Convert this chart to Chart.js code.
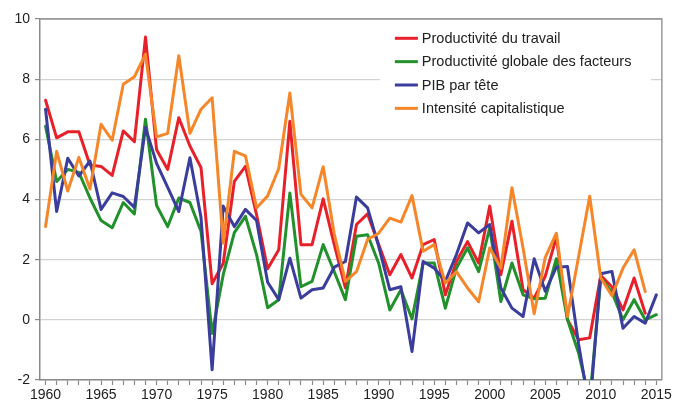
<!DOCTYPE html>
<html>
<head>
<meta charset="utf-8">
<script src="https://cdn.jsdelivr.net/npm/chart.js@4/dist/chart.umd.min.js"></script>
<style>
html,body{margin:0;padding:0;background:#fff;}
#wrap{position:relative;width:674px;height:409px;}
</style>
</head>
<body>
<div id="wrap"><canvas id="c" width="674" height="409"></canvas></div>
<script>
const years = ['1960','1961','1962','1963','1964','1965','1966','1967','1968','1969',
  '1970','1971','1972','1973','1974','1975','1976','1977','1978','1979',
  '1980','1981','1982','1983','1984','1985','1986','1987','1988','1989',
  '1990','1991','1992','1993','1994','1995','1996','1997','1998','1999',
  '2000','2001','2002','2003','2004','2005','2006','2007','2008','2009',
  '2010','2011','2012','2013','2014','2015'];

const xTickLabels = ['1960','1965','1970','1975','1980','1985','1990','1995','2000','2005','2010','2015'];
const yTickValues = [-2, 0, 2, 4, 6, 8, 10];

const seriesNames = ['Productivité du travail','Productivité globale des facteurs','PIB par tête','Intensité capitalistique'];

const productiviteTravail = [7.3,6.05,6.25,6.25,5.15,5.1,4.8,6.28,5.92,9.4,
  5.65,5.0,6.72,5.78,5.06,1.2,1.88,4.6,5.1,3.5,
  1.7,2.33,6.6,2.5,2.5,4.02,2.5,1.06,3.17,3.52,
  2.5,1.5,2.17,1.39,2.5,2.67,0.83,1.94,2.6,1.89,
  3.78,1.5,3.28,1.0,0.72,1.45,2.75,0.0,-0.66,-0.6,
  1.47,1.1,0.33,1.39,0.22,null];

const productiviteGlobale = [6.44,4.6,5.0,4.9,4.05,3.3,3.06,3.9,3.52,6.67,
  3.8,3.1,4.05,3.9,2.94,-0.45,1.5,2.9,3.44,2.17,
  0.4,0.67,4.22,1.1,1.28,2.5,1.6,0.67,2.78,2.83,
  1.88,0.33,1.0,0.03,1.89,1.89,0.39,1.72,2.39,1.6,
  3.06,0.61,1.89,0.83,0.7,0.72,2.03,0.0,-1.1,-2.7,
  1.39,0.92,0.0,0.67,0.0,0.17];

const pibParTete = [7.0,3.6,5.37,4.78,5.28,3.67,4.22,4.1,3.74,6.39,
  5.2,4.4,3.6,5.39,3.4,-1.66,3.78,3.1,3.67,3.3,
  1.25,0.67,2.05,0.72,1.0,1.06,1.75,1.94,4.08,3.72,
  2.44,1.0,1.1,-1.05,1.94,1.72,1.28,2.17,3.22,2.89,
  3.17,1.06,0.39,0.11,2.03,0.95,1.75,1.77,-0.8,-3.0,
  1.53,1.61,-0.28,0.11,-0.11,0.83];

const intensiteCapitalistique = [3.1,5.6,4.28,5.4,4.35,6.5,5.97,7.83,8.08,8.83,
  6.08,6.2,8.78,6.2,7.0,7.38,2.55,5.6,5.45,3.72,
  4.12,5.03,7.54,4.17,3.72,5.09,2.85,1.28,1.6,2.67,
  2.88,3.38,3.25,4.13,2.28,2.5,1.22,1.6,1.06,0.6,
  2.39,1.72,4.39,2.39,0.2,2.08,2.88,0.11,2.1,4.11,
  1.39,0.8,1.72,2.33,0.94,null];

const seriesData = [productiviteTravail, productiviteGlobale, pibParTete, intensiteCapitalistique];
const seriesColors = ['#e8202a', '#22912c', '#3a3d9c', '#f5862a'];

const FONT = '"Liberation Sans", Arial, sans-serif';

const legendBoxPlugin = {
  id: 'legendBox',
  beforeDatasetsDraw(chart) {
    const ctx = chart.ctx;
    const a = chart.chartArea;
    const bx = a.right - 282, by = a.top + 3, bw = 271, bh = 104;
    ctx.save();
    ctx.fillStyle = '#ffffff';
    ctx.fillRect(bx, by, bw, bh);
    ctx.font = '14.5px ' + FONT;
    ctx.textBaseline = 'middle';
    ctx.textAlign = 'left';
    chart.data.datasets.forEach((ds, i) => {
      const y = a.top + 19.3 + i * 23.35;
      ctx.strokeStyle = ds.borderColor;
      ctx.lineWidth = 3;
      ctx.beginPath();
      ctx.moveTo(bx + 15, y);
      ctx.lineTo(bx + 38, y);
      ctx.stroke();
      ctx.fillStyle = '#222';
      ctx.fillText(ds.label, bx + 42, y + 0.5);
    });
    ctx.restore();
  },
  afterDraw(chart) {
    const ctx = chart.ctx;
    const a = chart.chartArea;
    ctx.save();
    ctx.strokeStyle = '#9a9a9a';
    ctx.lineWidth = 1.5;
    ctx.beginPath();
    ctx.moveTo(a.left, a.top);
    ctx.lineTo(a.right, a.top);
    ctx.lineTo(a.right, a.bottom);
    ctx.stroke();
    ctx.restore();
  }
};

new Chart(document.getElementById('c'), {
  type: 'line',
  data: {
    labels: years,
    datasets: seriesData.map((d, i) => ({
      label: seriesNames[i],
      data: d,
      borderColor: seriesColors[i],
      backgroundColor: seriesColors[i],
      borderWidth: 3,
      borderJoinStyle: 'round',
      borderCapStyle: 'round',
      pointRadius: 0,
      tension: 0,
      fill: false,
      order: 4 - i
    }))
  },
  options: {
    responsive: false,
    devicePixelRatio: 1,
    animation: false,
    layout: { padding: { top: 19, right: 12, left: 0, bottom: 0 } },
    plugins: {
      legend: { display: false },
      tooltip: { enabled: false }
    },
    scales: {
      x: {
        type: 'category',
        offset: true,
        afterFit(s) { s.height = 29; },
        grid: { drawOnChartArea: false, drawTicks: true, tickLength: 5, tickColor: '#8a8a8a', tickWidth: 1.2 },
        border: { display: true, color: '#8a8a8a', width: 1.5 },
        ticks: {
          autoSkip: false, maxRotation: 0, minRotation: 0, padding: 2,
          color: '#222', font: { family: FONT, size: 14 },
          callback(v, i) { const y = years[i]; return xTickLabels.includes(y) ? y : ''; }
        }
      },
      y: {
        min: yTickValues[0],
        max: yTickValues[yTickValues.length - 1],
        afterFit(s) { s.width = 40; },
        afterBuildTicks(s) { s.ticks = yTickValues.map(v => ({ value: v })); },
        grid: {
          color: (c) => (c.tick && c.tick.value === 10) ? '#9a9a9a' : '#d2d2d2',
          lineWidth: 1.2,
          tickLength: 5, tickColor: '#8a8a8a', tickWidth: 1.2
        },
        border: { display: true, color: '#8a8a8a', width: 1.5 },
        ticks: { padding: 5, color: '#222', font: { family: FONT, size: 14 } }
      }
    }
  },
  plugins: [legendBoxPlugin]
});
</script>
</body>
</html>
